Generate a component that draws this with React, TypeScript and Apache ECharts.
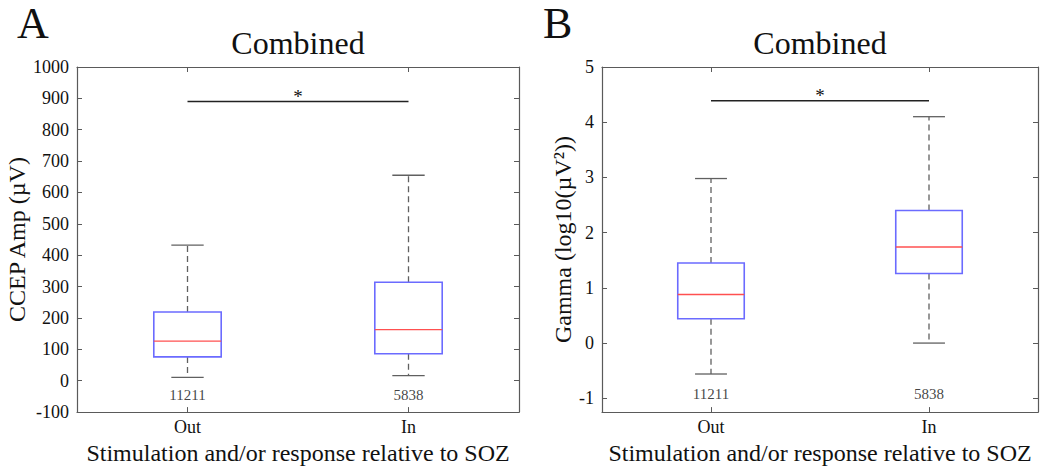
import React, { useEffect, useRef } from "react";
import * as echarts from "echarts";

const categories = ["Out", "In"];
const counts = [11211, 5838];

// Panel A: CCEP amplitude (µV)
const ampLow = [11, 16];
const ampQ1 = [76, 86];
const ampMedian = [126, 163];
const ampQ3 = [219, 314];
const ampHigh = [432, 655];
const ampSig = 890;

// Panel B: Gamma (log10(µV²))
const gamLow = [-0.56, 0.0];
const gamQ1 = [0.44, 1.26];
const gamMedian = [0.88, 1.74];
const gamQ3 = [1.45, 2.4];
const gamHigh = [2.98, 4.1];
const gamSig = 4.39;
const gamTicks = [-1, 0, 1, 2, 3, 4, 5];

const FONT = "Liberation Serif, Times New Roman, serif";
const AXIS_COLOR = "#5a5a5a";

function renderBox(params: any, api: any) {
  const cat = api.value(0);
  const low = api.coord([cat, api.value(1)]);
  const q1 = api.coord([cat, api.value(2)]);
  const med = api.coord([cat, api.value(3)]);
  const q3 = api.coord([cat, api.value(4)]);
  const high = api.coord([cat, api.value(5)]);
  const band = api.size([1, 0])[0];
  const bw = band * 0.305;
  const cw = bw * 0.48;
  const x = low[0];
  const whisk = { stroke: "#606060", lineWidth: 1.3, lineDash: [6, 4], fill: null };
  const cap = { stroke: "#606060", lineWidth: 1.3, fill: null };
  return {
    type: "group",
    children: [
      { type: "line", shape: { x1: x, y1: q3[1], x2: x, y2: high[1] }, style: whisk },
      { type: "line", shape: { x1: x, y1: q1[1], x2: x, y2: low[1] }, style: whisk },
      { type: "line", shape: { x1: x - cw / 2, y1: high[1], x2: x + cw / 2, y2: high[1] }, style: cap },
      { type: "line", shape: { x1: x - cw / 2, y1: low[1], x2: x + cw / 2, y2: low[1] }, style: cap },
      {
        type: "rect",
        shape: { x: x - bw / 2, y: q3[1], width: bw, height: q1[1] - q3[1] },
        style: { fill: "none", stroke: "#6b6bff", lineWidth: 1.6 },
      },
      {
        type: "line",
        shape: { x1: x - bw / 2, y1: med[1], x2: x + bw / 2, y2: med[1] },
        style: { stroke: "#ff5050", lineWidth: 1.3 },
      },
    ],
  };
}

function renderSig(params: any, api: any) {
  const p0 = api.coord([api.value(0), api.value(2)]);
  const p1 = api.coord([api.value(1), api.value(2)]);
  return {
    type: "group",
    children: [
      {
        type: "line",
        shape: { x1: p0[0], y1: p0[1], x2: p1[0], y2: p1[1] },
        style: { stroke: "#222", lineWidth: 1.6 },
      },
      {
        type: "text",
        x: (p0[0] + p1[0]) / 2,
        y: p0[1] - 5,
        style: {
          text: "*",
          fontSize: 19,
          fontFamily: FONT,
          fill: "#111",
          align: "center",
          verticalAlign: "middle",
        },
      },
    ],
  };
}

function boxData(low: number[], q1: number[], med: number[], q3: number[], high: number[]) {
  return categories.map((_, i) => [i, low[i], q1[i], med[i], q3[i], high[i]]);
}

function App() {
  const ref = useRef<HTMLDivElement>(null);

  useEffect(() => {
    document.body.style.margin = "0";
    const chart = echarts.init(ref.current!, null, { renderer: "svg" });

    const catAxis = (gridIndex: number, position: "bottom" | "top", labels: boolean) => ({
      type: "category",
      gridIndex,
      position,
      data: categories,
      boundaryGap: true,
      axisLine: { show: true, onZero: false, lineStyle: { color: AXIS_COLOR, width: 1.2 } },
      axisTick: { show: true, inside: true, alignWithLabel: true, length: 5, lineStyle: { color: AXIS_COLOR } },
      axisLabel: { show: labels, fontFamily: FONT, fontSize: 18, color: "#111", margin: 6 },
      splitLine: { show: false },
      name: labels ? "Stimulation and/or response relative to SOZ" : "",
      nameLocation: "middle",
      nameGap: 27,
      nameTextStyle: { fontFamily: FONT, fontSize: 24, color: "#111" },
    });

    const valAxisA = (position: "left" | "right", labels: boolean) => ({
      type: "value",
      gridIndex: 0,
      position,
      min: -100,
      max: 1000,
      interval: 100,
      axisLine: { show: true, onZero: false, lineStyle: { color: AXIS_COLOR, width: 1.2 } },
      axisTick: { show: true, inside: true, length: 5, lineStyle: { color: AXIS_COLOR } },
      axisLabel: {
        show: labels,
        formatter: (v: number) => String(v),
        fontFamily: FONT,
        fontSize: 18,
        color: "#111",
        margin: 8,
      },
      splitLine: { show: false },
      name: labels ? "CCEP Amp (µV)" : "",
      nameLocation: "middle",
      nameGap: 48,
      nameTextStyle: { fontFamily: FONT, fontSize: 24, color: "#111" },
    });

    const valAxisB = (position: "left" | "right", labels: boolean) => ({
      type: "value",
      gridIndex: 1,
      position,
      min: -1.25,
      max: 5,
      axisLine: { show: true, onZero: false, lineStyle: { color: AXIS_COLOR, width: 1.2 } },
      axisTick: { show: true, inside: true, length: 5, customValues: gamTicks, lineStyle: { color: AXIS_COLOR } },
      axisLabel: {
        show: labels,
        customValues: gamTicks,
        formatter: (v: number) => String(v),
        fontFamily: FONT,
        fontSize: 18,
        color: "#111",
        margin: 8,
      },
      splitLine: { show: false },
      name: labels ? "Gamma (log10(µV²))" : "",
      nameLocation: "middle",
      nameGap: 27,
      nameTextStyle: { fontFamily: FONT, fontSize: 24, color: "#111" },
    });

    const countSeries = (xAxisIndex: number, yAxisIndex: number, y: number) => ({
      type: "scatter",
      xAxisIndex,
      yAxisIndex,
      symbolSize: 0,
      silent: true,
      data: categories.map((_, i) => [i, y, counts[i]]),
      label: {
        show: true,
        position: "inside",
        formatter: (p: any) => String(p.value[2]),
        fontFamily: FONT,
        fontSize: 15,
        color: "#111",
      },
    });

    chart.setOption({
      animation: false,
      backgroundColor: "#ffffff",
      grid: [
        { left: 77, right: 531, top: 67, bottom: 54 },
        { left: 602, right: 12, top: 67, bottom: 54 },
      ],
      xAxis: [
        catAxis(0, "bottom", true),
        catAxis(0, "top", false),
        catAxis(1, "bottom", true),
        catAxis(1, "top", false),
      ],
      yAxis: [valAxisA("left", true), valAxisA("right", false), valAxisB("left", true), valAxisB("right", false)],
      graphic: [
        { type: "text", left: 17, top: 1, style: { text: "A", fontSize: 44, fontFamily: FONT, fill: "#111" } },
        { type: "text", left: 543, top: 1, style: { text: "B", fontSize: 44, fontFamily: FONT, fill: "#111" } },
        {
          type: "text",
          x: 298,
          y: 43,
          style: { text: "Combined", fontSize: 32, fontFamily: FONT, fill: "#111", textAlign: "center", textVerticalAlign: "middle" },
        },
        {
          type: "text",
          x: 820,
          y: 43,
          style: { text: "Combined", fontSize: 32, fontFamily: FONT, fill: "#111", textAlign: "center", textVerticalAlign: "middle" },
        },
      ],
      series: [
        {
          type: "custom",
          xAxisIndex: 0,
          yAxisIndex: 0,
          renderItem: renderBox,
          encode: { x: 0, y: [1, 2, 3, 4, 5] },
          data: boxData(ampLow, ampQ1, ampMedian, ampQ3, ampHigh),
          silent: true,
        },
        {
          type: "custom",
          xAxisIndex: 2,
          yAxisIndex: 2,
          renderItem: renderBox,
          encode: { x: 0, y: [1, 2, 3, 4, 5] },
          data: boxData(gamLow, gamQ1, gamMedian, gamQ3, gamHigh),
          silent: true,
        },
        {
          type: "custom",
          xAxisIndex: 0,
          yAxisIndex: 0,
          renderItem: renderSig,
          encode: { x: [0, 1], y: 2 },
          data: [[0, 1, ampSig]],
          silent: true,
        },
        {
          type: "custom",
          xAxisIndex: 2,
          yAxisIndex: 2,
          renderItem: renderSig,
          encode: { x: [0, 1], y: 2 },
          data: [[0, 1, gamSig]],
          silent: true,
        },
        countSeries(0, 0, -45),
        countSeries(2, 2, -0.92),
      ],
    });

    return () => chart.dispose();
  }, []);

  return <div ref={ref} style={{ width: 1050, height: 470 }} />;
}

export default App;
